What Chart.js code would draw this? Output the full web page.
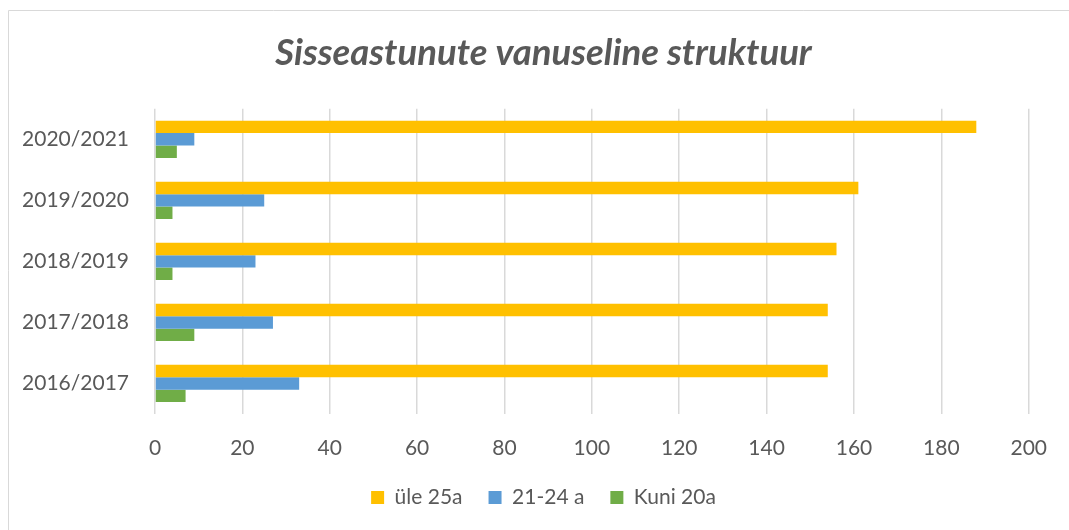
<!DOCTYPE html>
<html>
<head>
<meta charset="utf-8">
<script src="https://cdn.jsdelivr.net/npm/chart.js@4"></script>
<style>
html,body{margin:0;padding:0;background:#fff;}
#wrap{position:relative;width:1069px;height:530px;}
</style>
</head>
<body>
<div id="wrap"><canvas id="c" width="1069" height="530"></canvas></div>
<script>
const titleText = 'Sisseastunute vanuseline struktuur';
const categories = ['2020/2021', '2019/2020', '2018/2019', '2017/2018', '2016/2017'];
const seriesNames = ['üle 25a', '21-24 a', 'Kuni 20a'];
const ule25 = [188, 161, 156, 154, 154];
const age2124 = [9, 25, 23, 27, 33];
const kuni20 = [5, 4, 4, 9, 7];
const xTicks = [0, 20, 40, 60, 80, 100, 120, 140, 160, 180, 200];
const colors = ['#FFC000', '#5B9BD5', '#70AD47'];

const FONT = 'Lato, "Open Sans", sans-serif';
const TXT = '#595959';

const frame = {
  id: 'frame',
  beforeDraw(chart) {
    const ctx = chart.ctx;
    ctx.save();
    ctx.strokeStyle = '#d9d9d9';
    ctx.lineWidth = 1;
    ctx.beginPath();
    ctx.moveTo(8.5, 530);
    ctx.lineTo(8.5, 10.5);
    ctx.lineTo(1069, 10.5);
    ctx.stroke();
    ctx.restore();
  }
};

new Chart(document.getElementById('c'), {
  type: 'bar',
  data: {
    labels: categories,
    datasets: [
      { label: seriesNames[0], data: ule25, backgroundColor: colors[0] },
      { label: seriesNames[1], data: age2124, backgroundColor: colors[1] },
      { label: seriesNames[2], data: kuni20, backgroundColor: colors[2] }
    ]
  },
  options: {
    indexAxis: 'y',
    responsive: false,
    animation: false,
    devicePixelRatio: 1,
    layout: { padding: { left: 18, right: 0, top: 20, bottom: 12 } },
    datasets: { bar: { categoryPercentage: 0.61, barPercentage: 1.0 } },
    scales: {
      x: {
        min: 0, max: 200,
        afterBuildTicks(scale) { scale.ticks = xTicks.map(v => ({ value: v })); },
        afterFit(scale) { scale.height = 47; },
        grid: { color: '#d9d9d9', lineWidth: 1.5, drawTicks: false },
        border: { display: false },
        ticks: { color: TXT, font: { family: FONT, size: 21 }, padding: 22, maxRotation: 0 }
      },
      y: {
        grid: { display: false },
        border: { display: false },
        afterFit(scale) { scale.width = 137; },
        ticks: { color: TXT, font: { family: FONT, size: 21 }, padding: 18 }
      },
      yRight: {
        type: 'linear',
        position: 'right',
        display: true,
        grid: { display: false },
        border: { display: false },
        ticks: { display: false },
        afterFit(scale) { scale.width = 37; }
      }
    },
    plugins: {
      title: {
        display: true,
        text: titleText,
        color: TXT,
        font: { family: FONT, size: 36.5, weight: 'bold', style: 'italic' },
        padding: { top: 11, bottom: 34 }
      },
      legend: {
        position: 'bottom',
        labels: {
          color: TXT,
          font: { family: FONT, size: 21 },
          boxWidth: 13, boxHeight: 13,
          padding: 26
        }
      },
      tooltip: { enabled: false }
    }
  },
  plugins: [frame]
});
</script>
</body>
</html>
